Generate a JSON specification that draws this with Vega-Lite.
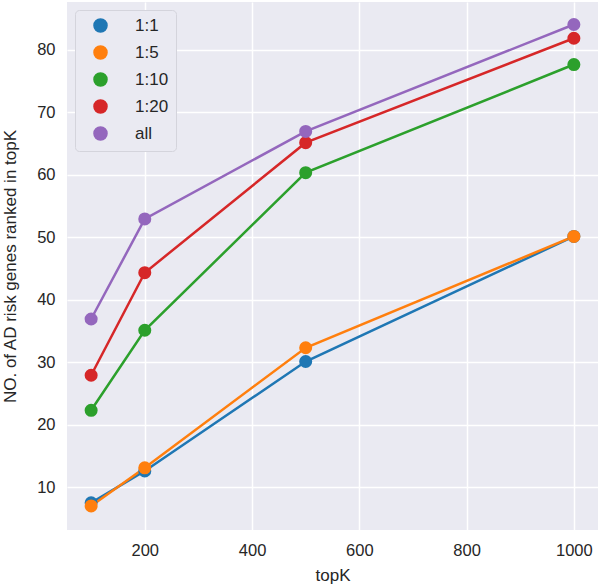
{
  "$schema": "https://vega.github.io/schema/vega-lite/v6.json",
  "autosize": {"type": "none"},
  "width": 531,
  "height": 528,
  "padding": {"left": 67, "top": 2, "right": 2, "bottom": 57},
  "background": "white",
  "config": {
    "view": {"fill": "#eaeaf2", "stroke": null},
    "font": "Liberation Sans",
    "axis": {
      "grid": true, "gridColor": "white", "gridWidth": 1.5,
      "domain": false, "ticks": false,
      "labelFontSize": 16.5, "labelColor": "#262626",
      "titleFontSize": 17, "titleColor": "#262626", "titleFontWeight": "normal",
      "labelPadding": 12
    }
  },
  "data": {"values": [
    {"group": "1:1", "topK": 100, "n": 7.5},
    {"group": "1:1", "topK": 200, "n": 12.6},
    {"group": "1:1", "topK": 500, "n": 30.1},
    {"group": "1:1", "topK": 1000, "n": 50.1},
    {"group": "1:5", "topK": 100, "n": 7.0},
    {"group": "1:5", "topK": 200, "n": 13.1},
    {"group": "1:5", "topK": 500, "n": 32.3},
    {"group": "1:5", "topK": 1000, "n": 50.1},
    {"group": "1:10", "topK": 100, "n": 22.3},
    {"group": "1:10", "topK": 200, "n": 35.1},
    {"group": "1:10", "topK": 500, "n": 60.3},
    {"group": "1:10", "topK": 1000, "n": 77.6},
    {"group": "1:20", "topK": 100, "n": 27.9},
    {"group": "1:20", "topK": 200, "n": 44.3},
    {"group": "1:20", "topK": 500, "n": 65.1},
    {"group": "1:20", "topK": 1000, "n": 81.8},
    {"group": "all", "topK": 100, "n": 36.9},
    {"group": "all", "topK": 200, "n": 52.9},
    {"group": "all", "topK": 500, "n": 66.9},
    {"group": "all", "topK": 1000, "n": 84.0}
  ]},
  "encoding": {
    "x": {"field": "topK", "type": "quantitative", "title": "topK",
          "scale": {"domain": [55, 1045], "nice": false, "zero": false},
          "axis": {"values": [200, 400, 600, 800, 1000], "format": "d", "titlePadding": 9}},
    "y": {"field": "n", "type": "quantitative", "title": "NO. of AD risk genes ranked in topK",
          "scale": {"domain": [3.15, 87.6], "nice": false, "zero": false},
          "axis": {"values": [10, 20, 30, 40, 50, 60, 70, 80], "titlePadding": 17}},
    "color": {"field": "group", "type": "nominal", "title": null,
              "scale": {"domain": ["1:1", "1:5", "1:10", "1:20", "all"],
                        "range": ["#1f77b4", "#ff7f0e", "#2ca02c", "#d62728", "#9467bd"]}}
  },
  "layer": [
    {"mark": {"type": "line", "strokeWidth": 2.5}},
    {"mark": {"type": "point", "filled": true, "opacity": 1, "size": 170, "shape": "circle"},
     "encoding": {"color": {"field": "group", "type": "nominal", "title": null,
        "legend": {"orient": "none", "legendX": 8, "legendY": 8,
          "fillColor": "#eaeaf2", "strokeColor": "#d4d4dc", "cornerRadius": 4,
          "padding": 7, "rowPadding": 6, "symbolSize": 170, "symbolType": "circle",
          "symbolOffset": 10, "labelOffset": 26, "labelFontSize": 17, "labelColor": "#262626"}}}}
  ]
}
